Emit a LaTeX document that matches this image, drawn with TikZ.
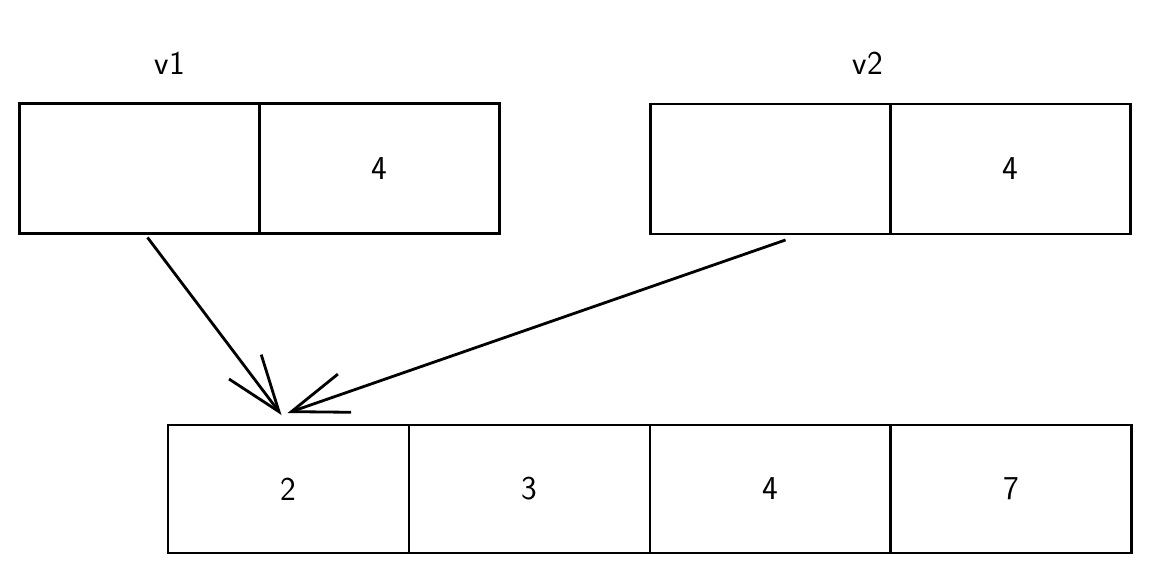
\documentclass[tikz,border=0pt]{standalone}
\usetikzlibrary{positioning,arrows.meta,calc}
\tikzset{
  cell/.style={draw,line width=1.6pt,minimum width=4.8cm,minimum height=2.6cm,
    inner sep=0pt,outer sep=0pt,font=\sffamily\fontsize{19}{22}\selectfont},
  wide/.style={minimum width=4.82cm,minimum height=2.56cm},
  lbl/.style={font=\sffamily\fontsize{19}{22}\selectfont},
  ptr/.style={line width=1.6pt,-{Straight Barb[length=32pt,width=23pt]}}
}
\begin{document}
\begin{tikzpicture}[x=0.02cm,y=-0.02cm]
  \useasboundingbox (0,0) rectangle (1150,574);
  % the two small vectors
  \node[lbl] (v1) at (170,63) {v1};
  \node[cell] (v1a) at (139.5,168.5) {};
  \node[cell,right=0pt of v1a] (v1b) {4};
  \node[lbl] (v2) at (868,63) {v2};
  \node[cell] (v2a) at (770.5,169) {};
  \node[cell,right=0pt of v2a] (v2b) {4};
  % the shared buffer
  \node[cell,wide] (b1) at (288.5,489) {2};
  \node[cell,wide,right=0pt of b1] (b2) {3};
  \node[cell,wide,right=0pt of b2] (b3) {4};
  \node[cell,wide,right=0pt of b3] (b4) {7};
  % pointers
  \coordinate (tip1) at ($(b1.north)+(-7,-10)$);
  \coordinate (tip2) at ($(b1.north)+(-1,-12)$);
  \draw[ptr] ($(v1a.south)+(8,4)$) -- (tip1);
  \draw[ptr] ($(v2a.south)+(15,6)$) -- (tip2);
\end{tikzpicture}
\end{document}
